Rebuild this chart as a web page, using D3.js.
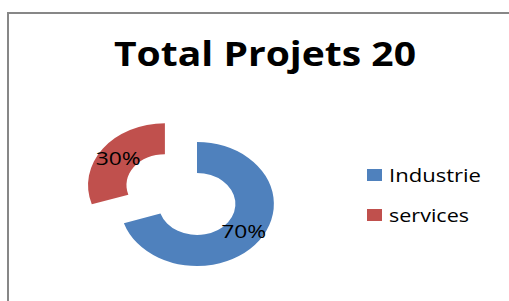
<!DOCTYPE html>
<html>
<head>
<meta charset="utf-8">
<script src="https://cdn.jsdelivr.net/npm/d3@7"></script>
<style>
  html, body { margin: 0; padding: 0; background: #fff; }
  svg { display: block; }
</style>
</head>
<body>
<div id="chart"></div>
<script>
var w = 509, h = 301;

var title = "Total Projets 20";
var categories = ["Industrie", "services"];
var values = [70, 30];
var colors = ["#4F81BD", "#C0504D"];
var explode = [0, 32]; // pixels the slice is pulled out

// the excel picture is stretched sideways
var sx = 1.24;
var cx = 197, cy = 204;
var outerR = 62, innerR = 31;

var svg = d3.select("#chart")
  .append("svg")
    .attr("width", w)
    .attr("height", h);

// chart frame
svg.append("path")
  .attr("d", "M8," + h + "V13H" + w)
  .attr("fill", "none")
  .attr("stroke", "#878787")
  .attr("stroke-width", 2);

svg.append("text")
  .attr("x", 114)
  .attr("y", 66)
  .attr("textLength", 302)
  .attr("lengthAdjust", "spacingAndGlyphs")
  .style("font-family", "'Open Sans', sans-serif")
  .style("font-weight", "bold")
  .style("font-size", "34px")
  .text(title);

var pie = d3.pie().sort(null)(values);
var arc = d3.arc().innerRadius(innerR).outerRadius(outerR);

function offset(d, i) {
  var a = (d.startAngle + d.endAngle) / 2;
  return [Math.sin(a) * explode[i], -Math.cos(a) * explode[i]];
}

var g = svg.append("g")
  .attr("transform", "translate(" + cx + "," + cy + ") scale(" + sx + ",1)");

g.selectAll("path.slice")
  .data(pie)
  .enter().append("path")
    .attr("class", "slice")
    .attr("transform", function(d, i) { return "translate(" + offset(d, i) + ")"; })
    .attr("d", arc)
    .attr("fill", function(d, i) { return colors[i]; });

svg.selectAll("text.lbl")
  .data(pie)
  .enter().append("text")
    .attr("class", "lbl")
    .attr("x", function(d, i) { return cx + (arc.centroid(d)[0] + offset(d, i)[0]) * sx; })
    .attr("y", function(d, i) { return cy + arc.centroid(d)[1] + offset(d, i)[1] + 7; })
    .attr("text-anchor", "middle")
    .attr("textLength", 45)
    .attr("lengthAdjust", "spacingAndGlyphs")
    .style("font-family", "'Open Sans', sans-serif")
    .style("font-size", "19px")
    .text(function(d) { return Math.round(d.value / d3.sum(values) * 100) + "%"; });

var legendWidths = [92, 80];
var leg = svg.selectAll("g.leg")
  .data(categories)
  .enter().append("g")
    .attr("class", "leg")
    .attr("transform", function(d, i) { return "translate(367," + (169 + i * 40) + ")"; });

leg.append("rect")
  .attr("width", 15)
  .attr("height", 12)
  .attr("fill", function(d, i) { return colors[i]; });

leg.append("text")
  .attr("x", 22)
  .attr("y", 13)
  .attr("textLength", function(d, i) { return legendWidths[i]; })
  .attr("lengthAdjust", "spacingAndGlyphs")
  .style("font-family", "'Open Sans', sans-serif")
  .style("font-size", "18px")
  .text(function(d) { return d; });
</script>
</body>
</html>
